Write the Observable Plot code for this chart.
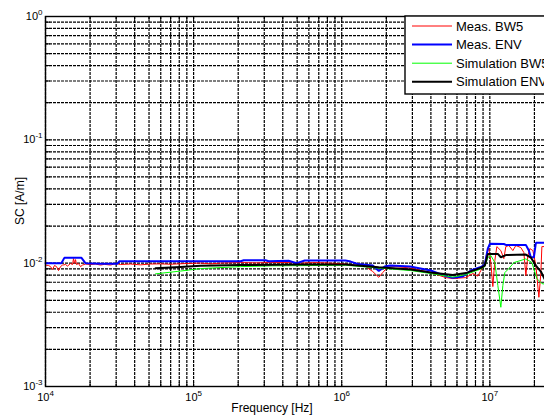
<!DOCTYPE html>
<html><head><meta charset="utf-8">
<script src="https://cdn.jsdelivr.net/npm/d3@7"></script>
<script src="https://cdn.jsdelivr.net/npm/@observablehq/plot@0.6"></script>
<style>
html,body{margin:0;padding:0;background:#fff;overflow:hidden;width:544px;height:415px}
#chart{position:relative;width:544px;height:415px;overflow:hidden}
#chart svg{max-width:none !important;width:570px;height:415px;display:block}
svg text{font-family:"Liberation Sans",Arial,Helvetica,sans-serif}
</style></head><body><div id="chart"></div>
<script>
// ---- series names / styles ----
const seriesNames = ["Meas. BW5", "Meas. ENV", "Simulation BW5", "Simulation ENV"];
const seriesColors = ["#ff0000", "#0000ff", "#00ff00", "#000000"];
const seriesWidths = [1, 2, 1, 2];

// ---- tick labels ----
const xTickValues = [1e4, 1e5, 1e6, 1e7];
const yTickValues = [1e-3, 1e-2, 1e-1, 1];

// ---- Meas. BW5 (red) ----
const measBW5Freq = [10000,10480,10810,11150,11500,11870,12240,12630,13030,13650,14080,14750,15220,15460,15700,15950,16200,16710,17240,17780,18630,20140,21770,23530,25030,27500,29720,32130,37530,43850,51230,59840,69910,88300,111500,130300,152200,207800,262400,331400,452200,528400,667400,842700,1.064e6,1.283e6,1.453e6,1.62e6,1.778e6,1.892e6,2.046e6,2.317e6,2.926e6,3.994e6,5.043e6,5.623e6,6.883e6,7.676e6,8.297e6,8.694e6,9.252e6,9.544e6,9.844e6,1.0157e7,1.0478e7,1.081e7,1.1151e7,1.1866e7,1.2433e7,1.2826e7,1.3439e7,1.4303e7,1.4985e7,1.6202e7,1.6973e7,1.751e7,1.8065e7,1.8636e7,1.9526e7,2.0459e7,2.1435e7,2.2113e7,2.2459e7,2.353e7];
const measBW5Val = [0.00965,0.00957,0.00938,0.00887,0.00957,0.00938,0.00871,0.00938,0.00965,0.00975,0.00947,0.00993,0.00975,0.01089,0.00993,0.01069,0.00975,0.00993,0.00938,0.00965,0.00984,0.00975,0.00984,0.00965,0.00978,0.00965,0.00993,0.00975,0.00984,0.00969,0.00984,0.00987,0.0098,0.00993,0.01002,0.00987,0.01002,0.01011,0.01006,0.01011,0.01011,0.01002,0.01011,0.01002,0.00984,0.00957,0.00938,0.00855,0.00768,0.00839,0.0093,0.00938,0.00913,0.00839,0.00764,0.0075,0.00764,0.00824,0.00786,0.00871,0.00975,0.01219,0.01313,0.01011,0.00646,0.0105,0.01363,0.01265,0.01089,0.01363,0.0139,0.01265,0.0139,0.01338,0.01219,0.00793,0.01153,0.01313,0.01265,0.00957,0.00529,0.00839,0.01363,0.01363];

// ---- Meas. ENV (blue) ----
const measEnvFreq = [10000,12800,13400,17500,18600,23500,30600,31600,59900,208000,218000,306000,321000,438000,497000,563000,1.06e6,1.15e6,1.28e6,1.62e6,1.78e6,1.95e6,2.13e6,2.9e6,3.99e6,5.04e6,5.6e6,6.57e6,7.44e6,8.69e6,9.25e6,9.69e6,1.0e7,1.243e7,1.283e7,1.751e7,1.834e7,1.892e7,1.983e7,2.046e7,2.353e7];
const measEnvVal = [0.00998,0.00998,0.01104,0.01104,0.01,0.0099,0.0099,0.01036,0.01036,0.01036,0.01056,0.01056,0.01036,0.01045,0.01,0.0105,0.0105,0.0103,0.00984,0.00957,0.00863,0.00938,0.00957,0.00938,0.00871,0.00786,0.0076,0.00779,0.00871,0.0093,0.00975,0.01313,0.01435,0.0143,0.01407,0.01407,0.01265,0.01117,0.01117,0.01461,0.01461];

// ---- Simulation BW5 (green) ----
const simBW5Freq = [55370,81700,111500,207800,341900,1.064e6,1.778e6,2.926e6,3.994e6,5.623e6,6.883e6,8.694e6,9.252e6,9.694e6,1.0157e7,1.081e7,1.1327e7,1.1866e7,1.2241e7,1.263e7,1.3439e7,1.453e7,1.751e7,1.922e7,2.078e7,2.2459e7,2.353e7];
const simBW5Val = [0.00819,0.00863,0.00904,0.00938,0.00951,0.00962,0.00913,0.00871,0.00824,0.00771,0.00808,0.00896,0.00938,0.0111,0.01153,0.01011,0.00658,0.00439,0.00658,0.00839,0.00904,0.01011,0.01083,0.01014,0.0075,0.00683,0.00676];

// ---- Simulation ENV (black) ----
const simEnvFreq = [55370,81700,111500,207800,528400,1.064e6,1.778e6,2.926e6,3.994e6,5.623e6,6.883e6,8.694e6,9.252e6,9.694e6,1.1327e7,1.1866e7,1.2826e7,1.751e7,1.892e7,2.046e7,2.2113e7,2.353e7];
const simEnvVal = [0.00909,0.00933,0.00951,0.00965,0.00975,0.00975,0.00926,0.00887,0.00839,0.00803,0.00831,0.00916,0.00957,0.01189,0.01189,0.01117,0.01163,0.01175,0.0111,0.00957,0.00855,0.00736];

const seriesFreq = [measBW5Freq, measEnvFreq, simBW5Freq, simEnvFreq];
const seriesVal = [measBW5Val, measEnvVal, simBW5Val, simEnvVal];

// grid values (1..9 per decade)
const xGrid = [];
for (const t of xTickValues) for (let m = 1; m <= 9; m++) if (m * t <= 3e7) xGrid.push(m * t);
const yGrid = [];
for (const t of yTickValues) for (let m = 1; m <= 9; m++) if (m * t <= 1) yGrid.push(m * t);

const lineMarks = seriesNames.map((name, i) => {
  const rows = seriesFreq[i].map((f, j) => ({f, v: seriesVal[i][j]}));
  return Plot.line(rows, {x: "f", y: "v", stroke: seriesColors[i], strokeWidth: seriesWidths[i], strokeLinejoin: "miter"});
});

const gridStyle = {stroke: "#000", strokeOpacity: 1, strokeWidth: 1.2, strokeDasharray: "3,1"};

const chart = Plot.plot({
  width: 570, height: 415,
  marginLeft: 45, marginRight: 10, marginTop: 16, marginBottom: 29,
  style: {fontFamily: "Liberation Sans, Arial, sans-serif", fontSize: "11px", background: "#fff", maxWidth: "none"},
  x: {type: "log", domain: [1e4, 3e7]},
  y: {type: "log", domain: [1e-3, 1]},
  marks: [
    Plot.gridX(xGrid, gridStyle),
    Plot.gridY(yGrid, gridStyle),
    Plot.tickX(xGrid, {stroke: "#000", insetTop: 366}),
    Plot.tickX(xGrid, {stroke: "#000", insetBottom: 366}),
    Plot.tickY(yGrid, {stroke: "#000", insetRight: 510}),
    ...lineMarks,
    Plot.frame({stroke: "#000", strokeWidth: 1.4}),
    Plot.axisX(xTickValues, {tickSize: 0, tickPadding: 7, label: null, fontSize: 11,
      tickFormat: d => "10^" + Math.round(Math.log10(d))}),
    Plot.axisY(yTickValues, {tickSize: 0, tickPadding: 3, label: null, fontSize: 11,
      tickFormat: d => "10^" + Math.round(Math.log10(d))})
  ]
});

document.getElementById("chart").appendChild(chart);
const svg = d3.select(chart);

// superscripts for tick labels
svg.selectAll("text").each(function() {
  const t = d3.select(this);
  const s = this.textContent;
  if (s.includes("^")) {
    const [base, exp] = s.split("^");
    t.text(base);
    t.append("tspan").attr("dy", "-5").attr("font-size", "8px").text(exp.replace("\u2212", "-"));
  }
});

// axis titles
svg.append("text").attr("x", 272).attr("y", 412).attr("text-anchor", "middle")
  .attr("font-size", "12px").attr("fill", "#000").text("Frequency [Hz]");
svg.append("text").attr("transform", "translate(24,201) rotate(-90)").attr("text-anchor", "middle")
  .attr("font-size", "12px").attr("fill", "#000").text("SC [A/m]");

// legend (cut by the window edge, as in the reference)
const lg = svg.append("g");
lg.append("rect").attr("x", 405).attr("y", 16).attr("width", 160).attr("height", 78)
  .attr("fill", "#fff").attr("stroke", "#000").attr("stroke-width", 1.4);
seriesNames.forEach((name, i) => {
  const yy = 26 + i * 18.6;
  lg.append("line").attr("x1", 412).attr("x2", 452).attr("y1", yy).attr("y2", yy)
    .attr("stroke", seriesColors[i]).attr("stroke-width", seriesWidths[i]);
  lg.append("text").attr("x", 456).attr("y", yy).attr("dy", "0.36em").attr("text-anchor", "start")
    .attr("font-size", "13px").attr("fill", "#000").text(name);
});
</script></body></html>
